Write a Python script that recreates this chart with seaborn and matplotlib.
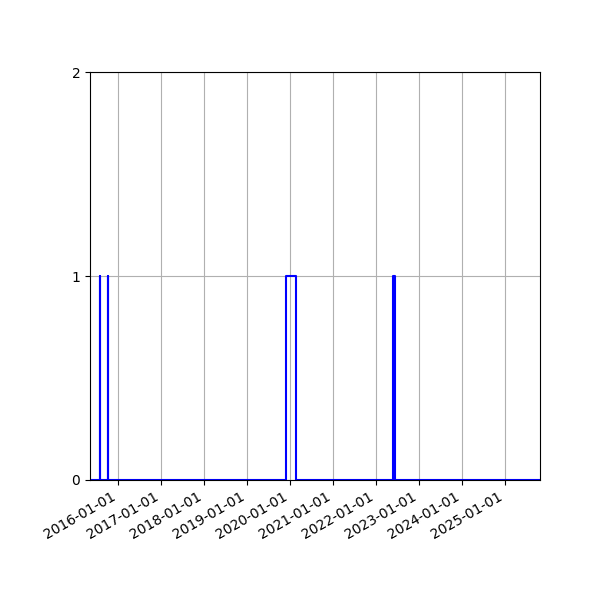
import matplotlib
matplotlib.use("Agg")
import matplotlib.pyplot as plt
import matplotlib.dates as mdates
import pandas as pd
import seaborn as sns

# change points of the step series (value holds until next date)
dates = ["2015-05-08", "2015-07-29", "2015-08-01", "2015-10-09", "2015-10-12",
         "2019-11-28", "2020-02-20", "2022-05-25", "2022-06-14", "2025-10-25"]
values = [0, 1, 0, 1, 0, 1, 0, 1, 0, 0]
y_ticks = [0, 1, 2]

df = pd.DataFrame({"date": pd.to_datetime(dates), "value": values})

fig, ax = plt.subplots(figsize=(6, 6), dpi=100)
sns.lineplot(data=df, x="date", y="value", drawstyle="steps-post",
             color="blue", linewidth=1.5, ax=ax)
ax.set_xlim(df["date"].min(), df["date"].max())
ax.set_ylim(0, 2)
ax.set_yticks(y_ticks)
ax.xaxis.set_major_locator(mdates.YearLocator())
ax.xaxis.set_major_formatter(mdates.DateFormatter("%Y-%m-%d"))
ax.grid(True)
ax.set_xlabel("")
ax.set_ylabel("")
fig.autofmt_xdate()
fig.subplots_adjust(left=0.15, right=0.9, top=0.88, bottom=0.2)
fig.savefig("out.png", dpi=100)
